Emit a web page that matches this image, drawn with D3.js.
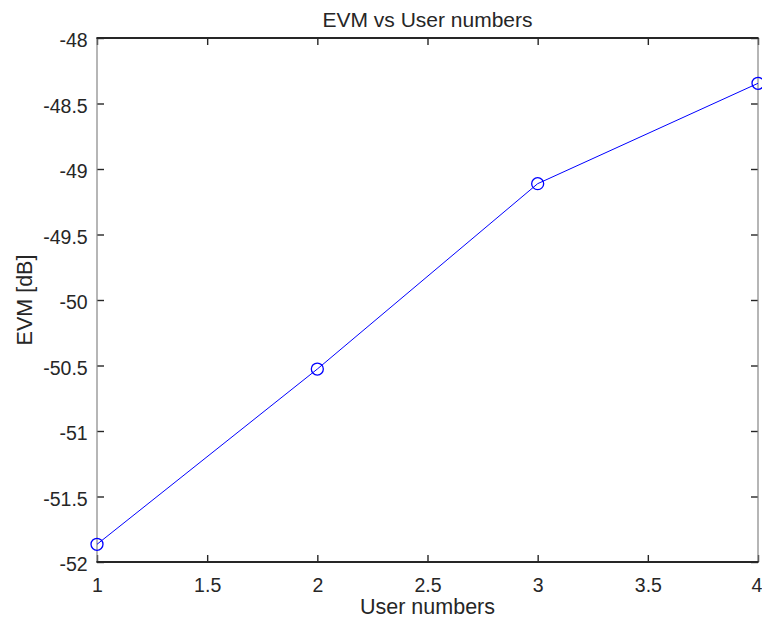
<!DOCTYPE html>
<html>
<head>
<meta charset="utf-8">
<script src="https://cdn.jsdelivr.net/npm/d3@7"></script>
<style>
	body { margin: 0; background: #fff; }
	.c-svg { width: 762px; height: 628px; }
	text { font-family: "Liberation Sans", Arial, sans-serif; fill: #262626; }
</style>
</head>
<body>
<div class="c-svg"></div>
<script>
//DATA
//-------------------------------------------------------------------------

const userNumbers = [1, 2, 3, 4];
const evmValues = [-51.865, -50.527, -49.112, -48.346];

const xTicks = [1, 1.5, 2, 2.5, 3, 3.5, 4];
const yTicks = [-52, -51.5, -51, -50.5, -50, -49.5, -49, -48.5, -48];

//tick labels with plain hyphen minus, like the original
const fmt = (d)=>{ return String(d); };


//INITIALISATION
//-------------------------------------------------------------------------

const opts = {
	container: ".c-svg",
	width: 762,
	height: 628,
	margin: {
		top: 38,
		right: 4,
		bottom: 66,
		left: 97
	}
};

const innerChart = {
	width: opts.width - opts.margin.left - opts.margin.right,
	height: opts.height - opts.margin.top - opts.margin.bottom
};

const svg = d3.select(opts.container)
	.append("svg")
	.attr("width", opts.width)
	.attr("height", opts.height);

const g = svg.append("g")
	.attr("transform", `translate(${opts.margin.left} ${opts.margin.top})`);

const x = d3.scaleLinear()
	.domain([1, 4])
	.range([0, innerChart.width]);

const y = d3.scaleLinear()
	.domain([-52, -48])
	.range([innerChart.height, 0]);


//AXIS
//-------------------------------------------------------------------------

const tickLen = 7;

const xAxis = d3.axisBottom(x)
	.tickValues(xTicks)
	.tickFormat(fmt)
	.tickSizeInner(-tickLen)
	.tickSizeOuter(0)
	.tickPadding(16.5);

const yAxis = d3.axisLeft(y)
	.tickValues(yTicks)
	.tickFormat(fmt)
	.tickSizeInner(-tickLen)
	.tickSizeOuter(0)
	.tickPadding(9.3);

const xTop = d3.axisTop(x)
	.tickValues(xTicks)
	.tickFormat("")
	.tickSizeInner(-tickLen)
	.tickSizeOuter(0);

const yRight = d3.axisRight(y)
	.tickValues(yTicks)
	.tickFormat("")
	.tickSizeInner(-tickLen)
	.tickSizeOuter(0);

const xAxisG = g.append("g").attr("transform", `translate(0 ${innerChart.height})`).call(xAxis);

const axes = [
	xAxisG,
	g.append("g").call(yAxis),
	g.append("g").call(xTop),
	g.append("g").attr("transform", `translate(${innerChart.width} 0)`).call(yRight)
];

axes.forEach((a)=>{
	a.select(".domain").remove();
	a.selectAll(".tick line")
		.attr("stroke", "#262626")
		.attr("stroke-width", 1.4);
	a.selectAll("text")
		.attr("font-family", "Liberation Sans, Arial, sans-serif")
		.attr("font-size", 19.5)
		.attr("fill", "#262626");
});

g.selectAll(".tick text").filter(function(){ return this.getAttribute("dy") === "0.32em"; })
	.attr("dy", "0.45em");

//last x label sits on the window edge, nudge it in a bit
xAxisG.selectAll(".tick text").filter((d)=>{ return d === 4; })
	.attr("dx", -1.5);


//BOX
//-------------------------------------------------------------------------

g.append("line")
	.attr("x1", 0).attr("x2", 0)
	.attr("y1", 0).attr("y2", innerChart.height)
	.attr("stroke", "#858585").attr("stroke-width", 1.2);

g.append("line")
	.attr("x1", innerChart.width).attr("x2", innerChart.width)
	.attr("y1", 0).attr("y2", innerChart.height)
	.attr("stroke", "#858585").attr("stroke-width", 1.2);

g.append("line")
	.attr("x1", -0.6).attr("x2", innerChart.width + 0.6)
	.attr("y1", 0).attr("y2", 0)
	.attr("stroke", "#262626").attr("stroke-width", 2);

g.append("line")
	.attr("x1", -0.6).attr("x2", innerChart.width + 0.6)
	.attr("y1", innerChart.height).attr("y2", innerChart.height)
	.attr("stroke", "#262626").attr("stroke-width", 2);


//SERIES
//-------------------------------------------------------------------------

const points = userNumbers.map((u, i)=>{ return { u: u, v: evmValues[i] }; });

const line = d3.line()
	.x((d)=>{ return x(d.u); })
	.y((d)=>{ return y(d.v); });

g.append("path")
	.datum(points)
	.attr("d", line)
	.attr("fill", "none")
	.attr("stroke", "#0000ff")
	.attr("stroke-width", 1);

g.selectAll(".marker")
	.data(points)
	.enter()
	.append("circle")
	.attr("class", "marker")
	.attr("cx", (d)=>{ return x(d.u); })
	.attr("cy", (d)=>{ return y(d.v); })
	.attr("r", 6)
	.attr("fill", "none")
	.attr("stroke", "#0000ff")
	.attr("stroke-width", 1.3);


//LABELS
//-------------------------------------------------------------------------

svg.append("text")
	.attr("x", opts.margin.left + innerChart.width / 2)
	.attr("y", 26.7)
	.attr("text-anchor", "middle")
	.attr("font-size", 21)
	.attr("fill", "#000")
	.text("EVM vs User numbers");

svg.append("text")
	.attr("x", opts.margin.left + innerChart.width / 2)
	.attr("y", 614)
	.attr("text-anchor", "middle")
	.attr("font-size", 21.5)
	.text("User numbers");

svg.append("text")
	.attr("transform", `translate(31.5 ${opts.margin.top + innerChart.height / 2}) rotate(-90)`)
	.attr("text-anchor", "middle")
	.attr("font-size", 21.5)
	.text("EVM [dB]");
</script>
</body>
</html>
